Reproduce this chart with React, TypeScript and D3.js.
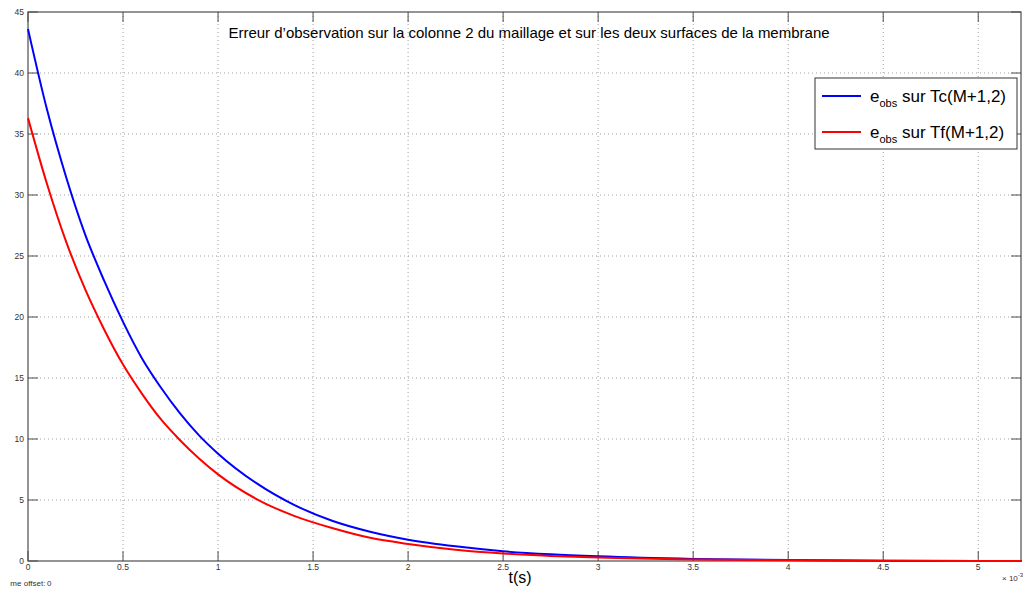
import React from "react";
import * as d3 from "d3";

// time in ms (axis is x 10^-3 s)
const times = [0, 0.1, 0.2, 0.3, 0.4, 0.5, 0.6, 0.7, 0.8, 0.9, 1.0, 1.2, 1.4, 1.6, 1.8, 2.0, 2.25, 2.5, 2.75, 3.0, 3.5, 4.0, 4.5, 5.0, 5.23];
const errTc = [43.6, 37.0, 31.5, 26.8, 23.0, 19.6, 16.6, 14.2, 12.1, 10.3, 8.8, 6.4, 4.6, 3.3, 2.4, 1.75, 1.2, 0.8, 0.55, 0.38, 0.17, 0.08, 0.03, 0.01, 0.0];
const errTf = [36.3, 30.9, 26.2, 22.3, 19.0, 16.1, 13.7, 11.6, 9.9, 8.4, 7.1, 5.1, 3.7, 2.7, 1.9, 1.4, 0.93, 0.62, 0.42, 0.28, 0.12, 0.06, 0.02, 0.01, 0.0];
const xTicks = [0, 0.5, 1, 1.5, 2, 2.5, 3, 3.5, 4, 4.5, 5];
const yTicks = [0, 5, 10, 15, 20, 25, 30, 35, 40, 45];

const W = 1025;
const H = 590;
const left = 28, right = 1021, top = 12, bottom = 561;
const font = "'Liberation Sans', Arial, sans-serif";

export default function App() {
  const x = d3.scaleLinear().domain([0, 5.225]).range([left, right]);
  const y = d3.scaleLinear().domain([0, 45]).range([bottom, top]);
  const line = d3
    .line<number>()
    .x((_, i) => x(times[i]))
    .y((d) => y(d))
    .curve(d3.curveMonotoneX);

  const axisCol = "#4d4d4d";
  const gridCol = "#a0a0a0";

  return (
    <svg width={W} height={H} style={{ position: "absolute", left: 0, top: 0 }} fontFamily={font}>
      <defs>
        <clipPath id="offsetClip">
          <rect x={10} y={570} width={100} height={20} />
        </clipPath>
      </defs>
      <rect width={W} height={H} fill="#fff" />
      {/* grid */}
      {xTicks.slice(1).map((t) => (
        <line key={"gx" + t} x1={x(t)} x2={x(t)} y1={top} y2={bottom} stroke={gridCol} strokeDasharray="1,3" />
      ))}
      {yTicks.slice(1, -1).map((t) => (
        <line key={"gy" + t} x1={left} x2={right} y1={y(t)} y2={y(t)} stroke={gridCol} strokeDasharray="1,3" />
      ))}
      {/* ticks */}
      {xTicks.map((t) => (
        <g key={"tx" + t} stroke={axisCol}>
          <line x1={x(t)} x2={x(t)} y1={bottom} y2={bottom - 10} />
          <line x1={x(t)} x2={x(t)} y1={top} y2={top + 10} />
        </g>
      ))}
      {yTicks.map((t) => (
        <g key={"ty" + t} stroke={axisCol}>
          <line x1={left} x2={left + 10} y1={y(t)} y2={y(t)} />
          <line x1={right} x2={right - 10} y1={y(t)} y2={y(t)} />
        </g>
      ))}
      {/* frame */}
      <rect x={left} y={top} width={right - left} height={bottom - top} fill="none" stroke={axisCol} strokeWidth={1.2} />
      {/* tick labels */}
      {xTicks.map((t) => (
        <text key={"lx" + t} x={x(t)} y={570} fontSize={8.5} textAnchor="middle" fill="#333">
          {String(t)}
        </text>
      ))}
      {yTicks.map((t) => (
        <text key={"ly" + t} x={24} y={y(t) + 3} fontSize={8.5} textAnchor="end" fill="#333">
          {String(t)}
        </text>
      ))}
      <text x={1002} y={581} fontSize={8} fill="#333">
        × 10<tspan dy={-4} fontSize={6}>-3</tspan>
      </text>
      <text x={4} y={586} fontSize={8} fill="#333" clipPath="url(#offsetClip)">Time offset:</text>
      <text x={47} y={586} fontSize={8} fill="#333">0</text>
      {/* series */}
      <path d={line(errTc) || ""} fill="none" stroke="#0000ff" strokeWidth={2} />
      <path d={line(errTf) || ""} fill="none" stroke="#ff0000" strokeWidth={2} />
      {/* title and x label */}
      <text x={529} y={38} fontSize={15} textAnchor="middle" fill="#000">
        Erreur d’observation sur la colonne 2 du maillage et sur les deux surfaces de la membrane
      </text>
      <text x={520} y={583} fontSize={16} textAnchor="middle" fill="#000">t(s)</text>
      {/* legend */}
      <g>
        <rect x={815} y={78} width={202} height={71} fill="#fff" stroke="#333" strokeWidth={1} />
        {[
          { c: "#0000ff", label: "sur Tc(M+1,2)", yy: 96 },
          { c: "#ff0000", label: "sur Tf(M+1,2)", yy: 132 },
        ].map((d) => (
          <g key={d.label}>
            <line x1={822} x2={861} y1={d.yy} y2={d.yy} stroke={d.c} strokeWidth={2} />
            <text x={870} y={d.yy + 6} fontSize={17} fill="#000">
              e<tspan dy={5} fontSize={11}>obs</tspan>
              <tspan dy={-5}> {d.label}</tspan>
            </text>
          </g>
        ))}
      </g>
    </svg>
  );
}
